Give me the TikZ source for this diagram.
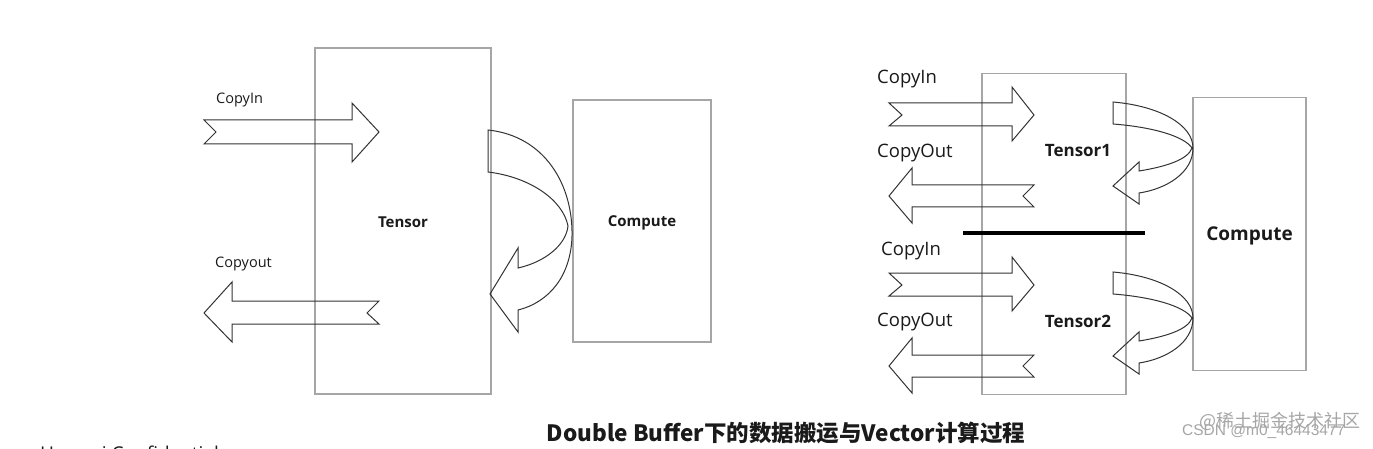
\documentclass[tikz,border=0pt]{standalone}
\usepackage{fontspec}
\setmainfont{Open Sans}
\newfontfamily\cjk{Noto Sans CJK SC}
\newfontfamily\wmfont{Liberation Sans}
\definecolor{boxgray}{HTML}{A6A6A6}
\definecolor{arrowgray}{HTML}{333333}
\definecolor{txt}{HTML}{1A1A1A}
\tikzset{
  boxnode/.style={draw=boxgray, line width=1.1pt, rectangle, inner sep=0pt, text=txt, font=\bfseries\fontsize{15}{18}\selectfont},
  fatarrow/.style={draw=arrowgray, line width=1pt, line join=miter},
  smalllabel/.style={anchor=west, inner sep=0pt, text=txt, font=\fontsize{14.5}{17}\selectfont},
  biglabel/.style={anchor=west, inner sep=0pt, text=txt, font=\fontsize{18.5}{22}\selectfont},
  tensorlabel/.style={inner sep=0pt, text=txt, font=\bfseries\fontsize{17}{20}\selectfont},
  divider/.style={line width=3.5pt, black},
  wmark/.style={inner sep=0pt, text=black!35}
}
\begin{document}
\begin{tikzpicture}[x=1pt,y=-1pt]
\useasboundingbox[fill=white] (0,0) rectangle (1373,449);

% ---------------- left diagram ----------------
\node[boxnode, minimum width=176pt, minimum height=346pt] (tensor) at (403,221) {};
\node[boxnode, minimum width=138pt, minimum height=242pt] (compute) at (642,221) {};
\node[tensorlabel, font=\bfseries\fontsize{15}{18}\selectfont] (tlab) at (403,222.5) {Tensor};
\node[tensorlabel, font=\bfseries\fontsize{15}{18}\selectfont] (clab) at (642,223) {Compute};

\node[smalllabel] (cin) at (216,100) {CopyIn};
\node[smalllabel] (cout) at (215,263.5) {Copyout};

% CopyIn arrow (right)
\draw[fatarrow] (204,120) -- (352,120) -- (352,103) -- (379,132) -- (352,162) -- (352,144) -- (204,144) -- (216,132) -- cycle;
% Copyout arrow (left)
\draw[fatarrow] (204,313) -- (232,282) -- (232,301) -- (379,301) -- (367,313) -- (379,324) -- (232,324) -- (232,342) -- cycle;
% curved arrow
\draw[fatarrow] (488,130) .. controls (545,136) and (573,185) .. (572,236)
  .. controls (571,275) and (550,302) .. (518,310)
  -- (518,332) -- (490,294) -- (518,248) -- (518,268)
  .. controls (545,262) and (566,245) .. (568,226)
  .. controls (563,200) and (530,177) .. (488,172) -- cycle;

% ---------------- right diagram ----------------
\node[boxnode, minimum width=144pt, minimum height=321pt] (tbuf) at (1054,233.7) {};
\node[boxnode, minimum width=113pt, minimum height=273pt] (compute2) at (1249.5,234.2) {};
\node[tensorlabel, font=\bfseries\fontsize{19}{22}\selectfont] (clab2) at (1249.5,236) {Compute};
\node[tensorlabel] (t1) at (1078,151) {Tensor1};
\node[tensorlabel] (t2) at (1078,321) {Tensor2};

\coordinate (dl) at (963,233);
\coordinate (dr) at (1145,233);
\draw[divider] (dl) -- (dr);

\node[biglabel] (ci1) at (877,79) {CopyIn};
\node[biglabel] (co1) at (877,153) {CopyOut};
\node[biglabel] (ci2) at (881,251) {CopyIn};
\node[biglabel] (co2) at (877,322) {CopyOut};

\foreach \dy in {0,170}{
  \begin{scope}[yshift=-\dy pt]
  % CopyIn
  \draw[fatarrow] (889,103) -- (1012,103) -- (1012,87) -- (1034,115) -- (1012,141) -- (1012,126) -- (889,126) -- (902,115) -- cycle;
  % CopyOut
  \draw[fatarrow] (889,196) -- (912,168) -- (912,185) -- (1034,185) -- (1023,196) -- (1034,207) -- (912,207) -- (912,223) -- cycle;
  % curved arrow
  \draw[fatarrow] (1113,102) .. controls (1160,106) and (1193,125) .. (1193,148)
    .. controls (1193,173) and (1166,189) .. (1139,193)
    -- (1139,204) -- (1113,186) -- (1139,162) -- (1139,171)
    .. controls (1164,167) and (1188,160) .. (1192,148)
    .. controls (1184,136) and (1152,127) .. (1113,124) -- cycle;
  \end{scope}
}

% ---------------- caption & marks ----------------
\node[inner sep=0pt, text=txt, font=\cjk\bfseries\fontsize{22.5}{26}\selectfont] (title) at (786,433) {Double Buffer下的数据搬运与Vector计算过程};
\node[wmark, anchor=west, font=\cjk\fontsize{18}{20}\selectfont] (wm1) at (1199,421) {@稀土掘金技术社区};
\node[wmark, anchor=west, font=\wmfont\fontsize{15.5}{18}\selectfont] (wm2) at (1182,431) {CSDN @m0\_46443477};
\node[anchor=north west, inner sep=0pt, text=txt, font=\fontsize{19}{22}\selectfont] (conf) at (40,446) {Huawei Confidential};
\end{tikzpicture}
\end{document}
